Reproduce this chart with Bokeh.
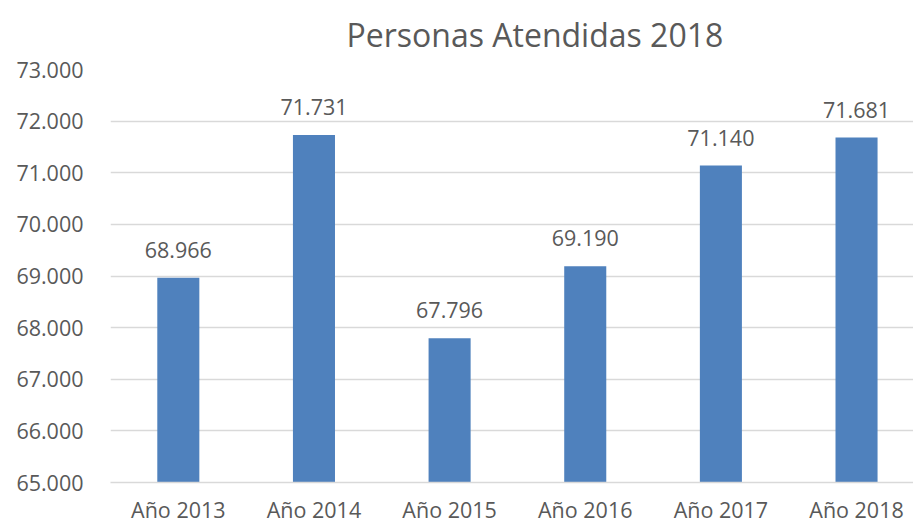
from bokeh.plotting import figure
from bokeh.models import ColumnDataSource, Range1d, FixedTicker, LabelSet
from bokeh.core.properties import value
from bokeh.embed import file_html
from bokeh.resources import INLINE

title_text = "Personas Atendidas 2018"
categories = ["Año 2013", "Año 2014", "Año 2015", "Año 2016", "Año 2017", "Año 2018"]
personas = [68966, 71731, 67796, 69190, 71140, 71681]
bar_labels = ["68.966", "71.731", "67.796", "69.190", "71.140", "71.681"]
y_ticks = [65000, 66000, 67000, 68000, 69000, 70000, 71000, 72000, 73000]
y_tick_labels = ["65.000", "66.000", "67.000", "68.000", "69.000", "70.000", "71.000", "72.000", "73.000"]

xs = list(range(len(categories)))
src = ColumnDataSource(dict(x=xs, y=personas, lab=bar_labels))

FONT = "Open Sans"
GREY = "#595959"
FS = "21.5px"

p = figure(width=913, height=526, output_backend="svg", toolbar_location=None,
           x_range=Range1d(-0.5, 5.42), y_range=Range1d(65000, 73000),
           min_border_left=110, min_border_right=0, min_border_bottom=41, min_border_top=0)
p.outline_line_color = None
p.background_fill_color = "white"
p.border_fill_color = "white"

p.title.text = title_text
p.title.text_font = FONT
p.title.text_font_size = "32px"
p.title.text_font_style = "normal"
p.title.text_color = GREY
p.title.align = "left"
p.title.offset = 236
p.title.standoff = 24
p.title.vertical_align = "top"

p.vbar(x="x", top="y", bottom=65000, width=0.31, source=src, fill_color="#4F81BD", line_color=None)

labels = LabelSet(x="x", y="y", text="lab", source=src, text_align="center", text_baseline="alphabetic",
                  y_offset=20, text_font=value(FONT), text_font_size=FS, text_color=GREY)
p.add_layout(labels)

p.xaxis.ticker = FixedTicker(ticks=xs)
p.xaxis.major_label_overrides = {x: c for x, c in zip(xs, categories)}
p.xaxis.major_tick_line_color = None
p.xaxis.major_tick_out = 0
p.xaxis.major_tick_in = 0
p.xaxis.minor_tick_line_color = None
p.xaxis.axis_line_color = "#D9D9D9"
p.xaxis.axis_line_width = 1.5
p.xaxis.major_label_text_font = FONT
p.xaxis.major_label_text_font_size = FS
p.xaxis.major_label_text_color = GREY
p.xaxis.major_label_standoff = 12
p.xgrid.grid_line_color = None

p.yaxis.ticker = FixedTicker(ticks=y_ticks)
p.yaxis.major_label_overrides = {t: l for t, l in zip(y_ticks, y_tick_labels)}
p.yaxis.major_tick_line_color = None
p.yaxis.major_tick_out = 0
p.yaxis.major_tick_in = 0
p.yaxis.minor_tick_line_color = None
p.yaxis.axis_line_color = None
p.yaxis.major_label_text_font = FONT
p.yaxis.major_label_text_font_size = FS
p.yaxis.major_label_text_color = GREY
p.yaxis.major_label_standoff = 27
p.ygrid.grid_line_color = "#D9D9D9"
p.ygrid.grid_line_width = 1.5

open("out.html", "w").write(file_html(p, INLINE))
